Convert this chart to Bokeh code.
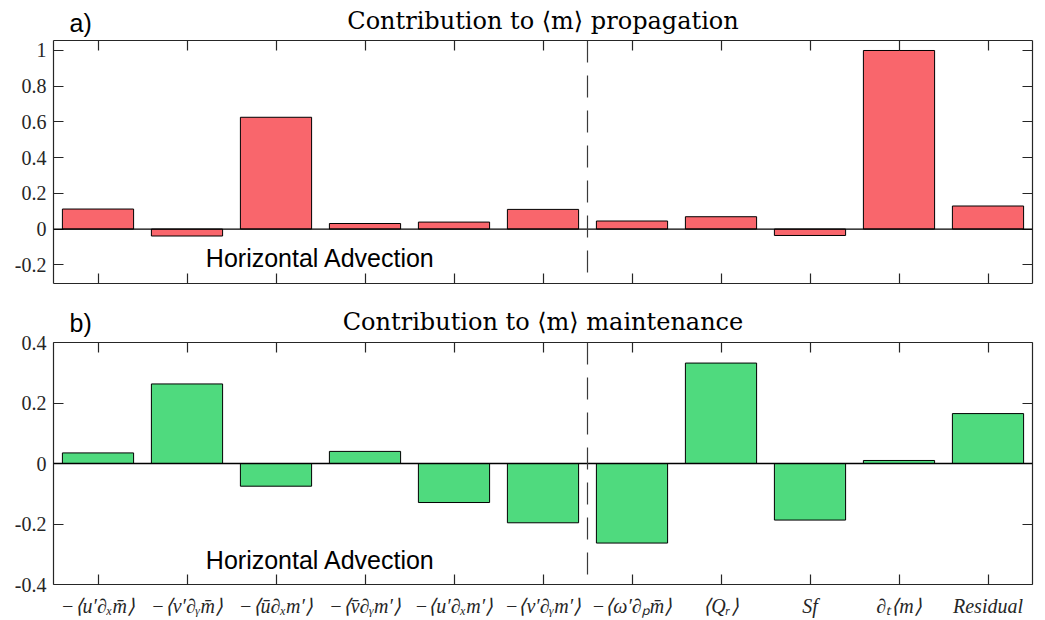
from bokeh.plotting import figure
from bokeh.models import Range1d, LinearAxis, FixedTicker, Span, Label, Title, ColumnDataSource
from bokeh.layouts import column
from bokeh.embed import file_html
from bokeh.resources import INLINE

# ---- data ----
terms = ["−⟨u′∂ₓm̄⟩", "−⟨v′∂ᵧm̄⟩", "−⟨ū∂ₓm′⟩", "−⟨v̄∂ᵧm′⟩", "−⟨u′∂ₓm′⟩",
         "−⟨v′∂ᵧm′⟩", "−⟨ω′∂ₚm̄⟩", "⟨Qᵣ⟩", "Sf", "∂ₜ⟨m⟩", "Residual"]
positions = [1, 2, 3, 4, 5, 6, 7, 8, 9, 10, 11]
propagation = [0.112, -0.039, 0.626, 0.031, 0.039, 0.110, 0.045, 0.069, -0.036, 1.0, 0.129]
maintenance = [0.035, 0.263, -0.075, 0.040, -0.129, -0.196, -0.263, 0.332, -0.187, 0.010, 0.165]
ticks_a = [-0.2, 0, 0.2, 0.4, 0.6, 0.8, 1]
ticks_b = [-0.4, -0.2, 0, 0.2, 0.4]
split_at = 6.5

SERIF = "Liberation Serif"
TITLE_SERIF = "DejaVu Serif"
SANS = "Liberation Sans"
AX = "#262626"


def fmt(v):
    if abs(v - round(v)) < 1e-9:
        return str(int(round(v)))
    return ("%.1f" % v)


def style_axis(ax, ticks, labels):
    ax.ticker = FixedTicker(ticks=ticks)
    ax.axis_line_color = AX
    ax.axis_line_width = 1.2
    ax.major_tick_line_color = AX
    ax.major_tick_line_width = 1.2
    ax.major_tick_in = 10
    ax.major_tick_out = 0
    ax.minor_tick_in = 0
    ax.minor_tick_out = 0
    if labels is None:
        ax.major_label_overrides = {t: "" for t in ticks}
        ax.major_label_text_font_size = "0px"
        ax.major_label_standoff = 0
    else:
        ax.major_label_overrides = labels
        ax.major_label_text_font = SERIF
        ax.major_label_text_color = "#262626"


def panel(values, color, yr, yticks, title, letter, show_labels, height, top, bottom,
          adv_y, letter_standoff, title_standoff):
    p = figure(width=1045, height=height, output_backend="svg", toolbar_location=None,
               x_range=Range1d(0.5, 11.5), y_range=Range1d(*yr),
               min_border_left=53, min_border_right=13, min_border_top=top, min_border_bottom=bottom)
    p.grid.visible = False
    p.outline_line_color = None
    p.title.text = ""

    src = ColumnDataSource(dict(x=positions, top=values))
    p.vbar(x="x", top="top", bottom=0, width=0.8, source=src,
           fill_color=color, line_color="black", line_width=1)

    p.add_layout(Span(location=0, dimension="width", line_color="black", line_width=1.3))
    p.add_layout(Span(location=split_at, dimension="height", line_color="#3a3a3a",
                      line_width=1.2, line_dash="22 13"))

    # axes
    xb = p.xaxis[0]
    if show_labels:
        style_axis(xb, positions, {pos: t for pos, t in zip(positions, terms)})
        xb.major_label_text_font_size = "20px"
        xb.major_label_text_font_style = "italic"
        xb.major_label_standoff = 10
    else:
        style_axis(xb, positions, None)
    yl = p.yaxis[0]
    style_axis(yl, yticks, {t: fmt(t) for t in yticks})
    yl.major_label_text_font_size = "20px"
    yl.major_label_standoff = 7

    xt = LinearAxis()
    style_axis(xt, positions, None)
    p.add_layout(xt, "above")
    yr_ax = LinearAxis()
    style_axis(yr_ax, yticks, None)
    p.add_layout(yr_ax, "right")

    # panel letter, right above the frame
    p.add_layout(Title(text=letter, align="left", offset=16, standoff=letter_standoff,
                       text_font=SANS, text_font_size="25px", text_font_style="normal",
                       text_color="black", vertical_align="bottom"), "above")
    # main title, pulled down onto the same line as the letter
    p.add_layout(Title(text=title, align="center", standoff=title_standoff,
                       text_font=TITLE_SERIF, text_font_size="24px", text_font_style="normal",
                       text_color="black"), "above")

    p.add_layout(Label(x=3.5, y=adv_y, text="Horizontal Advection", text_font=SANS,
                       text_font_size="25px", text_align="center", text_baseline="middle",
                       text_color="black"))
    return p


pa = panel(propagation, "#F9666C", (-0.305, 1.056), ticks_a,
           "Contribution to ⟨m⟩ propagation", "a)", False, 300, 40, 17, -0.16, 8, -65)
pb = panel(maintenance, "#4FDA7E", (-0.4, 0.4), ticks_b,
           "Contribution to ⟨m⟩ maintenance", "b)", True, 320, 42, 36, -0.318, 11, -69)

layout = column(pa, pb, spacing=0)
open("out.html", "w").write(file_html(layout, INLINE))
